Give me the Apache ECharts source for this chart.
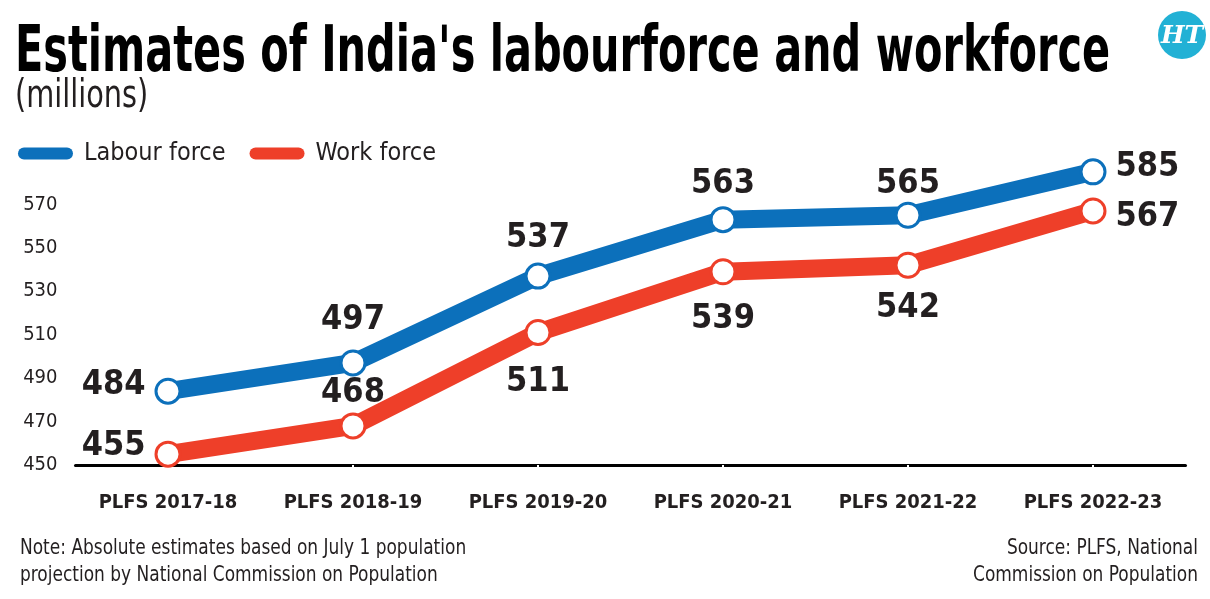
<!DOCTYPE html>
<html>
<head>
<meta charset="utf-8">
<script src="https://cdn.jsdelivr.net/npm/echarts@6/dist/echarts.min.js"></script>
<style>
  html, body { margin: 0; padding: 0; background: #fff; }
  #chart { width: 1210px; height: 599px; }
</style>
</head>
<body>
<div id="chart"></div>
<script>
var categories = ['PLFS 2017-18', 'PLFS 2018-19', 'PLFS 2019-20', 'PLFS 2020-21', 'PLFS 2021-22', 'PLFS 2022-23'];
var labourForce = [484, 497, 537, 563, 565, 585];
var workForce = [455, 468, 511, 539, 542, 567];
var yTicks = [450, 470, 490, 510, 530, 550, 570];

var FONT = "'DejaVu Sans Condensed', 'Liberation Sans Narrow', sans-serif";
var INK = '#231f20';
var BLUE = '#0c70bb';
var RED = '#ee3f29';

// label placement per point: [position, distance, dy]
var labourPlace = [['left', 9, -6], ['top', 12, 0], ['top', 7, 0], ['top', 5, 0], ['top', 1, 0], ['right', 9, -5]];
var workPlace = [['left', 9, -8], ['top', 2, 0], ['bottom', 19, 0], ['bottom', 17, 0], ['bottom', 12, 0], ['right', 9, 6]];

function buildData(values, place){
    var out = [];
    for(var i=0; i<values.length; i++){
        out.push({
            value: values[i],
            label: { position: place[i][0], distance: place[i][1], offset: [0, place[i][2]] }
        });
    }
    return out;
}

var chart = echarts.init(document.getElementById('chart'), null, { renderer: 'canvas' });

function seriesOf(name, color, data){
    return {
        name: name,
        type: 'line',
        data: data,
        symbol: 'circle',
        symbolSize: 24,
        itemStyle: { color: '#fff', borderColor: color, borderWidth: 3 },
        lineStyle: { color: color, width: 18 },
        label: {
            show: true,
            fontFamily: FONT,
            fontWeight: 'bold',
            fontSize: 34,
            color: INK
        },
        emphasis: { disabled: true },
        animation: false
    };
}

var capsule = 'path://M6,0 L49,0 A6,6 0 0 1 49,12 L6,12 A6,6 0 0 1 6,0 Z';

function txt(x, y, s, font, scaleX, align, color){
    return {
        type: 'text',
        x: x,
        y: y,
        scaleX: scaleX,
        silent: true,
        style: {
            text: s,
            font: font,
            fill: color || INK,
            align: align || 'left',
            verticalAlign: 'middle'
        }
    };
}

var option = {
    backgroundColor: '#fff',
    legend: {
        left: 18,
        top: 141,
        padding: 0,
        itemWidth: 55,
        itemHeight: 12,
        itemGap: 24,
        selectedMode: false,
        data: [
            { name: 'Labour force', icon: capsule, itemStyle: { color: BLUE, borderWidth: 0 } },
            { name: 'Work force', icon: capsule, itemStyle: { color: RED, borderWidth: 0 } }
        ],
        textStyle: { fontFamily: FONT, fontSize: 25, color: INK, padding: [0, 0, 0, 6] }
    },
    grid: { left: 75.5, right: 24.5, top: 161, bottom: 134, containLabel: false },
    xAxis: {
        type: 'category',
        data: categories,
        boundaryGap: true,
        axisLine: { lineStyle: { color: '#000', width: 3 } },
        axisTick: { show: true, alignWithLabel: true, length: 3, lineStyle: { color: '#fff', width: 2 } },
        axisLabel: { interval: 0, fontFamily: FONT, fontWeight: 'bold', fontSize: 20, color: INK, margin: 28 },
        splitLine: { show: false }
    },
    yAxis: {
        type: 'value',
        min: 450,
        max: 590,
        interval: 20,
        axisLine: { show: false },
        axisTick: { show: false },
        splitLine: { show: false },
        axisLabel: {
            fontFamily: FONT,
            fontSize: 20,
            color: INK,
            margin: 18,
            formatter: function(v){ return yTicks.indexOf(v) >= 0 ? String(v) : ''; }
        }
    },
    series: [
        seriesOf('Labour force', BLUE, buildData(labourForce, labourPlace)),
        seriesOf('Work force', RED, buildData(workForce, workPlace))
    ],
    graphic: [
        txt(15, 54, "Estimates of India's labourforce and workforce", "bold 64px 'DejaVu Sans Condensed', sans-serif", 0.72, 'left', '#000'),
        txt(15, 97, '(millions)', "39px 'DejaVu Sans Condensed', sans-serif", 0.82),
        txt(20, 549, 'Note: Absolute estimates based on July 1 population', "21px 'DejaVu Sans Condensed', sans-serif", 0.9),
        txt(20, 576, 'projection by National Commission on Population', "21px 'DejaVu Sans Condensed', sans-serif", 0.9),
        txt(1198, 549, 'Source: PLFS, National', "21px 'DejaVu Sans Condensed', sans-serif", 0.9, 'right'),
        txt(1198, 576, 'Commission on Population', "21px 'DejaVu Sans Condensed', sans-serif", 0.9, 'right'),
        {
            type: 'circle',
            shape: { cx: 1182, cy: 35, r: 24 },
            style: { fill: '#22b1d5' }
        },
        txt(1182, 36, 'HT', "italic bold 25px 'DejaVu Serif', serif", 1, 'center', '#fff')
    ],
    animation: false
};

chart.setOption(option);
</script>
</body>
</html>
